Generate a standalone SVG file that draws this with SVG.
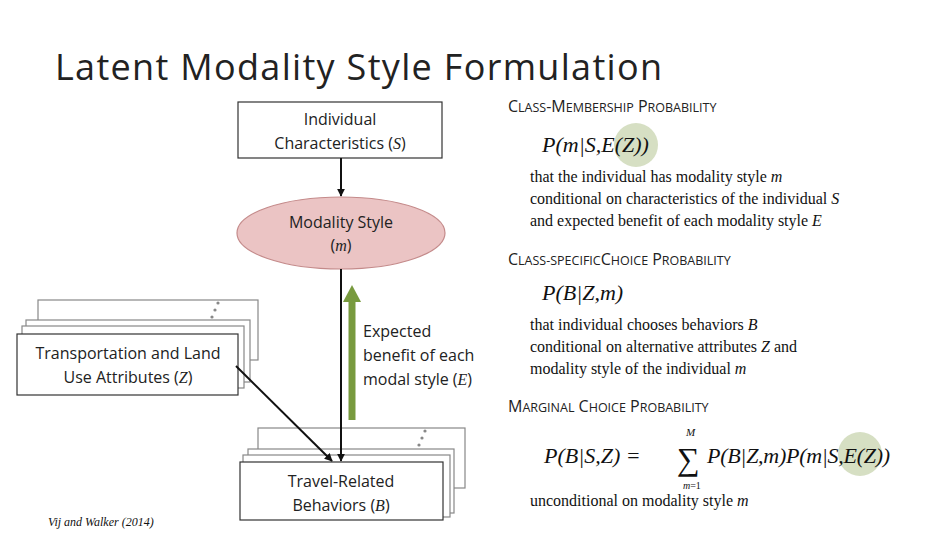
<svg xmlns="http://www.w3.org/2000/svg" width="936" height="540" viewBox="0 0 936 540">
<defs>
<style>
.s{font-family:"Open Sans","Liberation Sans",sans-serif;fill:#222}
.t{font-family:"Liberation Serif",serif;fill:#111}
.box{fill:#fff;stroke:#333;stroke-width:1.2}
.bk{fill:#fff;stroke:#888;stroke-width:1.2}
.ln{stroke:#111;stroke-width:2;fill:none}
</style>
<marker id="ah" viewBox="0 0 10 10" refX="9" refY="5" markerWidth="4" markerHeight="4" orient="auto"><path d="M0,0L10,5L0,10z" fill="#111"/></marker>
</defs>
<rect width="936" height="540" fill="#fff"/>
<text class="s" x="55" y="80" font-size="36" textLength="607">Latent Modality Style Formulation</text>

<g id="chars"><rect class="box" x="238" y="102" width="204" height="56"/>
<text class="s" x="340" y="125" font-size="16" text-anchor="middle">Individual</text>
<text class="s" x="340" y="149" font-size="16" text-anchor="middle">Characteristics  (<tspan font-style="italic" font-family="Liberation Serif">S</tspan>)</text></g>

<g id="modality"><ellipse cx="341" cy="233" rx="104" ry="36" fill="#ebc4c4" stroke="#c48a8a" stroke-width="1.2"/>
<text class="s" x="341" y="228" font-size="16" text-anchor="middle">Modality Style</text>
<text class="s" x="341" y="251" font-size="16" text-anchor="middle">(<tspan font-style="italic" font-family="Liberation Serif">m</tspan>)</text></g>

<g id="transport">
<rect class="bk" x="38" y="300" width="220" height="60"/>
<rect class="bk" x="26" y="320" width="224" height="62"/>
<rect class="bk" x="22" y="326" width="222" height="62"/>
<rect class="box" x="17" y="334" width="221" height="61"/>
<circle cx="218" cy="303" r="1.6" fill="#888"/><circle cx="215" cy="310" r="1.6" fill="#888"/><circle cx="212" cy="317" r="1.6" fill="#888"/>
<text class="s" x="128" y="359" font-size="16" text-anchor="middle">Transportation and Land</text>
<text class="s" x="128" y="383" font-size="16" text-anchor="middle">Use Attributes (<tspan font-style="italic" font-family="Liberation Serif">Z</tspan>)</text></g>

<g id="travel">
<rect class="bk" x="258" y="428" width="207" height="60"/>
<rect class="bk" x="248" y="449" width="206" height="64"/>
<rect class="bk" x="243" y="455" width="207" height="62"/>
<rect class="box" x="240" y="462" width="203" height="58"/>
<circle cx="425" cy="431" r="1.6" fill="#888"/><circle cx="422" cy="438" r="1.6" fill="#888"/><circle cx="419" cy="445" r="1.6" fill="#888"/>
<text class="s" x="341" y="487" font-size="16" text-anchor="middle">Travel-Related</text>
<text class="s" x="341" y="511" font-size="16" text-anchor="middle">Behaviors (<tspan font-style="italic" font-family="Liberation Serif">B</tspan>)</text></g>

<g id="connectors">
<line class="ln" x1="341" y1="158" x2="341" y2="196" marker-end="url(#ah)"/>
<line class="ln" x1="341" y1="269" x2="341" y2="461" marker-end="url(#ah)"/>
<line class="ln" x1="236" y1="366" x2="332" y2="461" marker-end="url(#ah)"/>
<line x1="352" y1="420" x2="352" y2="300" stroke="#789a3e" stroke-width="7"/>
<path d="M343,302L352,285L361,302z" fill="#789a3e"/>
</g>
<text class="s" x="363" y="337" font-size="16">Expected</text>
<text class="s" x="363" y="361" font-size="16">benefit of each</text>
<text class="s" x="363" y="385" font-size="16">modal style (<tspan font-style="italic" font-family="Liberation Serif">E</tspan>)</text>

<text class="t" x="48" y="526" font-size="12" font-style="italic">Vij and Walker (2014)</text>

<g class="s" font-size="16">
<text x="508" y="112">C<tspan font-size="12.5">LASS</tspan>-M<tspan font-size="12.5">EMBERSHIP</tspan> P<tspan font-size="12.5">ROBABILITY</tspan></text>
<text x="508" y="265">C<tspan font-size="12.5">LASS-SPECIFIC</tspan>C<tspan font-size="12.5">HOICE</tspan> P<tspan font-size="12.5">ROBABILITY</tspan></text>
<text x="508" y="412">M<tspan font-size="12.5">ARGINAL</tspan> C<tspan font-size="12.5">HOICE</tspan> P<tspan font-size="12.5">ROBABILITY</tspan></text>
</g>
<circle cx="636" cy="145" r="22" fill="#d6dfc3"/>
<circle cx="860" cy="454" r="22" fill="#d6dfc3"/>
<g class="t" font-size="22" font-style="italic">
<text x="542" y="152">P(m|S,E(Z))</text>
<text x="542" y="300">P(B|Z,m)</text>
<text x="544" y="463">P(B|S,Z) =</text>
<text x="707" y="463" textLength="183">P(B|Z,m)P(m|S,E(Z))</text>
</g>
<text class="t" x="677" y="470" font-size="32">∑</text>
<text class="t" x="686" y="436" font-size="11" font-style="italic">M</text>
<text class="t" x="683" y="489" font-size="10"><tspan font-style="italic">m</tspan>=1</text>
<g class="t" font-size="16">
<text x="530" y="182">that the individual has modality style <tspan font-style="italic">m</tspan></text>
<text x="530" y="204">conditional on characteristics of the individual <tspan font-style="italic">S</tspan></text>
<text x="530" y="226">and expected benefit of each modality style <tspan font-style="italic">E</tspan></text>
<text x="530" y="330">that individual chooses behaviors <tspan font-style="italic">B</tspan></text>
<text x="530" y="352">conditional on alternative attributes <tspan font-style="italic">Z</tspan> and</text>
<text x="530" y="374">modality style of the individual <tspan font-style="italic">m</tspan></text>
<text x="530" y="506">unconditional on modality style <tspan font-style="italic">m</tspan></text>
</g>
</svg>
